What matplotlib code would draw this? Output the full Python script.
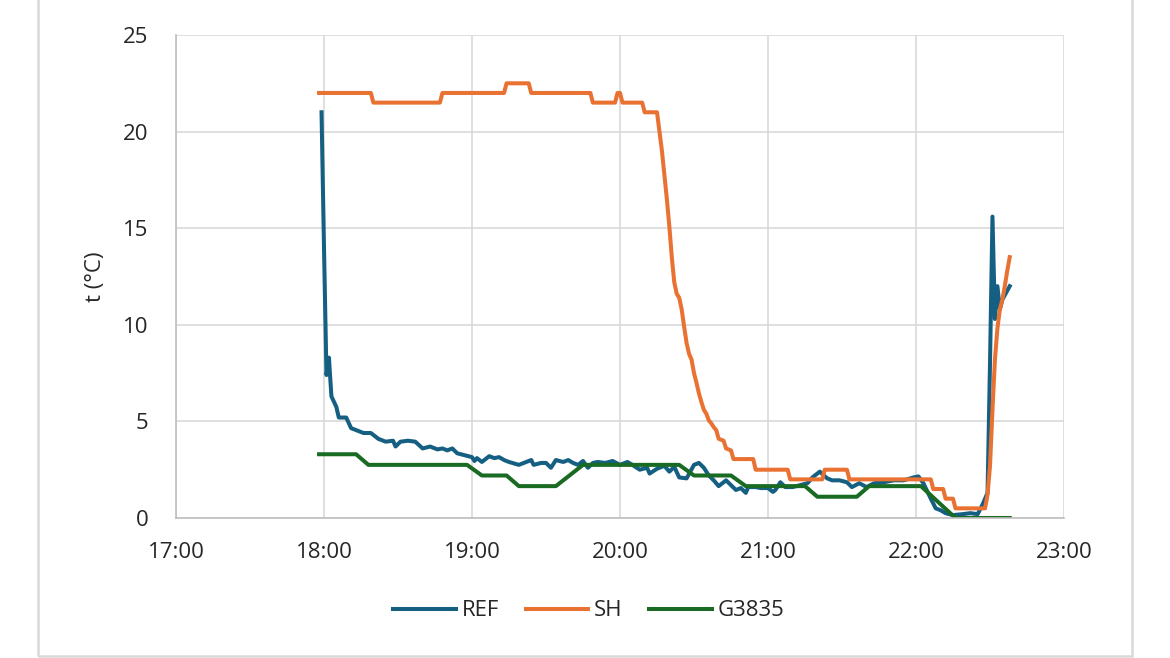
import pandas as pd
import matplotlib.pyplot as plt
import matplotlib.dates as mdates
from matplotlib.patches import Rectangle

plt.rcParams['font.family'] = ['Open Sans', 'DejaVu Sans']

# REF sensor
ref_time = ["17:59", "18:00", "18:01", "18:02", "18:03", "18:05", "18:06", "18:09", "18:11", "18:14",
            "18:16", "18:19", "18:22", "18:25", "18:28", "18:29", "18:31", "18:34", "18:37", "18:40",
            "18:43", "18:46", "18:48", "18:50", "18:52", "18:54", "18:57", "19:00", "19:01", "19:02",
            "19:04", "19:07", "19:09", "19:11", "19:13", "19:15", "19:19", "19:21", "19:24", "19:25",
            "19:28", "19:30", "19:32", "19:34", "19:37", "19:39", "19:41", "19:43", "19:45", "19:47",
            "19:49", "19:51", "19:54", "19:57", "20:00", "20:03", "20:05", "20:08", "20:11", "20:12",
            "20:15", "20:18", "20:20", "20:22", "20:24", "20:27", "20:30", "20:32", "20:34", "20:36",
            "20:38", "20:40", "20:43", "20:45", "20:47", "20:49", "20:51", "20:52", "20:55", "20:57",
            "21:00", "21:02", "21:03", "21:05", "21:07", "21:10", "21:13", "21:16", "21:18", "21:21",
            "21:24", "21:26", "21:29", "21:32", "21:34", "21:37", "21:40", "21:43", "21:47", "21:51",
            "21:55", "21:59", "22:01", "22:03", "22:06", "22:08", "22:10", "22:12", "22:15", "22:19",
            "22:22", "22:25", "22:27", "22:29", "22:30", "22:31", "22:32", "22:33", "22:34", "22:35",
            "22:38"]
ref_val = [21.0, 14.0, 7.4, 8.3, 6.3, 5.75, 5.2, 5.2, 4.65, 4.5,
           4.4, 4.4, 4.1, 3.95, 4.0, 3.7, 3.95, 4.0, 3.95, 3.6,
           3.7, 3.55, 3.6, 3.5, 3.6, 3.35, 3.25, 3.15, 2.95, 3.1,
           2.9, 3.2, 3.1, 3.15, 3.0, 2.9, 2.75, 2.85, 3.0, 2.75,
           2.85, 2.85, 2.6, 3.0, 2.9, 3.0, 2.85, 2.75, 2.95, 2.6,
           2.85, 2.9, 2.85, 2.95, 2.75, 2.9, 2.75, 2.5, 2.6, 2.3,
           2.55, 2.7, 2.4, 2.65, 2.1, 2.05, 2.75, 2.85, 2.6, 2.2,
           1.95, 1.65, 1.95, 1.7, 1.45, 1.55, 1.3, 1.6, 1.6, 1.55,
           1.55, 1.35, 1.45, 1.85, 1.6, 1.6, 1.7, 1.8, 2.1, 2.4,
           2.05, 1.95, 1.95, 1.85, 1.6, 1.8, 1.6, 1.8, 1.85, 1.95,
           1.95, 2.1, 2.15, 1.8, 1.0, 0.5, 0.4, 0.25, 0.15, 0.2,
           0.25, 0.2, 0.7, 1.3, 8.0, 15.6, 10.3, 12.0, 10.8, 11.3,
           12.0]

# SH sensor
sh_time = ["17:58", "18:19", "18:20", "18:47", "18:48", "19:13", "19:14", "19:23", "19:24", "19:48",
           "19:49", "19:58", "19:59", "20:00", "20:01", "20:09", "20:10", "20:15", "20:17", "20:19",
           "20:20", "20:21", "20:22", "20:23", "20:24", "20:25", "20:26", "20:27", "20:28", "20:29",
           "20:30", "20:31", "20:32", "20:33", "20:34", "20:35", "20:36", "20:37", "20:38", "20:39",
           "20:40", "20:42", "20:43", "20:45", "20:46", "20:54", "20:55", "21:08", "21:09", "21:22",
           "21:23", "21:32", "21:33", "22:06", "22:07", "22:11", "22:12", "22:15", "22:16", "22:28",
           "22:29", "22:30", "22:31", "22:32", "22:33", "22:34", "22:35", "22:36", "22:37", "22:38"]
sh_val = [22.0, 22.0, 21.5, 21.5, 22.0, 22.0, 22.5, 22.5, 22.0, 22.0,
          21.5, 21.5, 22.0, 22.0, 21.5, 21.5, 21.0, 21.0, 19.0, 16.5,
          15.1, 13.5, 12.2, 11.6, 11.4, 10.8, 9.9, 9.05, 8.5, 8.2,
          7.5, 7.0, 6.45, 6.0, 5.6, 5.4, 5.05, 4.9, 4.7, 4.55,
          4.1, 4.0, 3.6, 3.5, 3.05, 3.05, 2.5, 2.5, 2.0, 2.0,
          2.5, 2.5, 2.0, 2.0, 1.5, 1.5, 1.0, 1.0, 0.5, 0.5,
          1.2, 2.7, 5.6, 8.2, 9.8, 10.8, 11.3, 12.0, 12.8, 13.5]

# G3835 sensor
g_time = ["17:58", "18:13", "18:18", "18:58", "19:04", "19:14", "19:19", "19:34", "19:45", "20:24",
          "20:30", "20:45", "20:51", "21:15", "21:20", "21:36", "21:41", "22:02", "22:16", "22:38"]
g_val = [3.3, 3.3, 2.75, 2.75, 2.2, 2.2, 1.65, 1.65, 2.75, 2.75,
         2.2, 2.2, 1.65, 1.65, 1.1, 1.1, 1.65, 1.65, 0.0, 0.0]


def to_dt(times):
    return pd.to_datetime(["2024-01-01 " + t for t in times])


fig = plt.figure(figsize=(11.7, 6.58), dpi=100)
ax = fig.add_axes([176 / 1170, 1 - 518 / 658, 888 / 1170, 483 / 658])

ax.plot(to_dt(ref_time), ref_val, color='#156082', lw=2.9, label='REF', solid_joinstyle='round')
ax.plot(to_dt(sh_time), sh_val, color='#E97132', lw=2.9, label='SH', solid_joinstyle='round')
ax.plot(to_dt(g_time), g_val, color='#196B24', lw=2.9, label='G3835', solid_joinstyle='round')

ax.set_xlim(pd.Timestamp("2024-01-01 17:00"), pd.Timestamp("2024-01-01 23:00"))
ax.set_ylim(0, 25)
ax.xaxis.set_major_locator(mdates.HourLocator())
ax.xaxis.set_major_formatter(mdates.DateFormatter('%H:%M'))
ax.set_yticks([0, 5, 10, 15, 20, 25])

ax.grid(True, color='#D9D9D9', lw=1.2)
ax.set_axisbelow(True)
for s in ['top', 'right']:
    ax.spines[s].set_visible(False)
ax.spines['left'].set_color('#BFBFBF')
ax.spines['bottom'].set_color('#BFBFBF')
ax.spines['left'].set_linewidth(1.2)
ax.spines['bottom'].set_linewidth(1.2)
ax.tick_params(length=0, labelsize=16, colors='#262626')
ax.tick_params(axis='x', pad=17)
ax.tick_params(axis='y', pad=20)
ax.set_ylabel('t (°C)', fontsize=16, color='#262626', labelpad=12)

fig.legend(loc='center', bbox_to_anchor=(589 / 1170, 1 - 611 / 658), ncol=3, frameon=False,
           fontsize=16, handlelength=2.8, handletextpad=0.28, columnspacing=1.2,
           labelcolor='#262626')

fig.patches.append(Rectangle((38 / 1170, 2 / 658), 1094 / 1170, 1.2, transform=fig.transFigure,
                             fill=False, edgecolor='#D9D9D9', lw=1.8))

fig.savefig('out.png', dpi=100)
